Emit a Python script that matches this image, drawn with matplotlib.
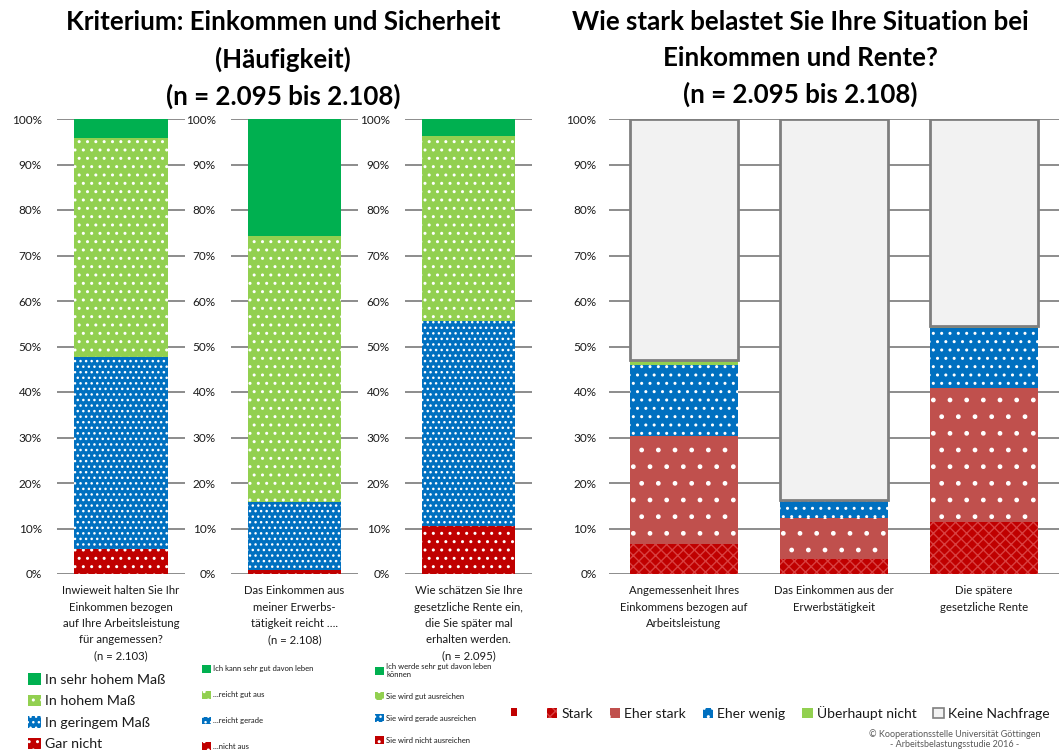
import matplotlib
matplotlib.use("Agg")
import matplotlib.pyplot as plt
from matplotlib.patches import Patch, Rectangle
import numpy as np

W, H = 1060, 751
plt.rcParams['font.family'] = ['Lato', 'DejaVu Sans']
plt.rcParams['hatch.linewidth'] = 1.0

# ---------------- data ----------------
# left: three single-bar charts (stack order bottom -> top)
left_questions = [
    "Inwieweit halten Sie Ihr\nEinkommen bezogen\nauf Ihre Arbeitsleistung\nfür angemessen?\n(n = 2.103)",
    "Das Einkommen aus\nmeiner Erwerbs-\ntätigkeit reicht ….\n(n = 2.108)",
    "Wie schätzen Sie Ihre\ngesetzliche Rente ein,\ndie Sie später mal\nerhalten werden.\n(n = 2.095)",
]
left_values = [
    [5.5, 42.2, 48.1, 4.2],
    [0.9, 14.9, 58.5, 25.7],
    [10.5, 45.1, 40.7, 3.7],
]
left_labels = [
    ["Gar nicht", "In geringem Maß", "In hohem Maß", "In sehr hohem Maß"],
    ["…nicht aus", "…reicht gerade", "…reicht gut aus", "Ich kann sehr gut davon leben"],
    ["Sie wird nicht ausreichen", "Sie wird gerade ausreichen", "Sie wird gut ausreichen",
     "Ich werde sehr gut davon leben\nkönnen"],
]

# right: stacked bars
right_categories = [
    "Angemessenheit Ihres\nEinkommens bezogen auf\nArbeitsleistung",
    "Das Einkommen aus der\nErwerbstätigkeit",
    "Die spätere\ngesetzliche Rente",
]
right_series = ["Stark", "Eher stark", "Eher wenig", "Überhaupt nicht", "Keine Nachfrage"]
stark = [6.6, 3.2, 11.4]
eher_stark = [23.8, 9.2, 29.5]
eher_wenig = [15.6, 3.6, 13.1]
ueberhaupt_nicht = [1.0, 0.2, 0.6]
keine_nachfrage = [53.0, 83.8, 45.4]
right_values = [stark, eher_stark, eher_wenig, ueberhaupt_nicht, keine_nachfrage]

yticks = list(range(0, 101, 10))

# ---------------- styles ----------------
GRID = '#8C8C8C'
TXT = '#1a1a1a'
left_styles = [
    dict(facecolor='#C00000', hatch='..', edgecolor='white'),
    dict(facecolor='#0070C0', hatch='...', edgecolor='white'),
    dict(facecolor='#92D050', hatch='..', edgecolor='white'),
    dict(facecolor='#00B050', hatch=None, edgecolor='#00B050'),
]
right_styles = [
    dict(facecolor='#C00000', hatch='xxx', edgecolor='#D84040'),
    dict(facecolor='#C0504D', hatch='.', edgecolor='white'),
    dict(facecolor='#0070C0', hatch='..', edgecolor='white'),
    dict(facecolor='#92D050', hatch=None, edgecolor='#92D050'),
    dict(facecolor='#F2F2F2', hatch=None, edgecolor='#7F7F7F'),
]

fig = plt.figure(figsize=(W / 100, H / 100), dpi=100)


def rect(x0, y0, x1, y1):
    return [x0 / W, 1 - y1 / H, (x1 - x0) / W, (y1 - y0) / H]


def style_axes(ax):
    for s in ax.spines.values():
        s.set_visible(False)
    ax.set_ylim(0, 100)
    ax.set_yticks(yticks)
    ax.set_yticklabels([f"{t}%" for t in yticks], fontsize=8.5, color=TXT)
    ax.tick_params(axis='y', length=0, pad=11)
    ax.tick_params(axis='x', length=0, pad=8)
    ax.set_axisbelow(True)
    ax.yaxis.grid(True, color=GRID, linewidth=1.4)


# ---------------- left three panels ----------------
left_boxes = [(57, 185), (231, 358), (405, 532)]
for i, (x0, x1) in enumerate(left_boxes):
    ax = fig.add_axes(rect(x0, 119, x1, 574))
    style_axes(ax)
    bottom = 0
    for v, st in zip(left_values[i], left_styles):
        ax.bar([0], [v], bottom=bottom, width=0.73, linewidth=0, **st)
        bottom += v
    ax.set_xlim(-0.5, 0.5)
    ax.set_xticks([0])
    ax.set_xticklabels([left_questions[i]], fontsize=8.2, color=TXT, linespacing=1.6, va='top')
    ax.tick_params(axis='x', pad=8)

# left legends
leg_specs = [
    dict(x=28, y=673, fs=10.2, ls=0.62, hl=0.9),
    dict(x=202, y=665, fs=5.5, ls=2.35, hl=1.2),
    dict(x=375, y=663, fs=5.5, ls=1.85, hl=1.2),
]
for i, sp in enumerate(leg_specs):
    handles = [Patch(facecolor=st['facecolor'], hatch=st['hatch'], edgecolor=st['edgecolor'], linewidth=0)
               for st in left_styles][::-1]
    labels = left_labels[i][::-1]
    lg = fig.legend(handles, labels, loc='upper left', bbox_to_anchor=(sp['x'] / W, 1 - sp['y'] / H),
                    frameon=False, fontsize=sp['fs'], labelspacing=sp['ls'], handlelength=sp['hl'],
                    handleheight=sp['hl'], handletextpad=0.3, borderpad=0, borderaxespad=0)
    for t in lg.get_texts():
        t.set_color(TXT)

# stray marker
fig.patches.append(Rectangle((511 / W, 1 - 716 / H), 6 / W, 8 / H, transform=fig.transFigure,
                             facecolor='#C00000', edgecolor='none'))

# ---------------- right panel ----------------
axr = fig.add_axes(rect(609, 119, 1059, 574))
style_axes(axr)
axr.tick_params(axis='y', pad=9)
x = np.arange(len(right_categories))
bottom = np.zeros(len(right_categories))
for vals, st, name in zip(right_values, right_styles, right_series):
    lw = 2.0 if name == "Keine Nachfrage" else 0
    axr.bar(x, vals, bottom=bottom, width=0.72, linewidth=lw, label=name, **st)
    bottom += np.array(vals)
axr.set_xlim(-0.5, 2.5)
axr.set_xticks(x)
axr.set_xticklabels(right_categories, fontsize=8.2, color=TXT, linespacing=1.6, va='top')
axr.tick_params(axis='x', pad=8)

handles = [Patch(facecolor=st['facecolor'], hatch=st['hatch'], edgecolor=st['edgecolor'],
                 linewidth=(1.2 if n == "Keine Nachfrage" else 0)) for st, n in zip(right_styles, right_series)]
lg = fig.legend(handles, right_series, loc='center left', bbox_to_anchor=(547 / W, 1 - 713 / H),
                ncol=5, frameon=False, fontsize=10, handlelength=0.75, handleheight=0.75,
                handletextpad=0.3, columnspacing=1.2, borderpad=0, borderaxespad=0)
for t in lg.get_texts():
    t.set_color(TXT)

# ---------------- titles ----------------
fig.text(283 / W, 1 - 10 / H, "Kriterium: Einkommen und Sicherheit\n(Häufigkeit)\n(n = 2.095 bis 2.108)",
         ha='center', va='top', fontsize=18.6, fontweight='bold', linespacing=1.58, color='black')
fig.text(800 / W, 1 - 10 / H, "Wie stark belastet Sie Ihre Situation bei\nEinkommen und Rente?\n(n = 2.095 bis 2.108)",
         ha='center', va='top', fontsize=18.6, fontweight='bold', linespacing=1.58, color='black')

fig.text(955 / W, 1 - 729 / H, "© Kooperationsstelle Universität Göttingen\n- Arbeitsbelastungsstudie 2016 -",
         ha='center', va='top', fontsize=6.5, color='#595959', linespacing=1.1)

fig.savefig("out.png", dpi=100, facecolor='white')
